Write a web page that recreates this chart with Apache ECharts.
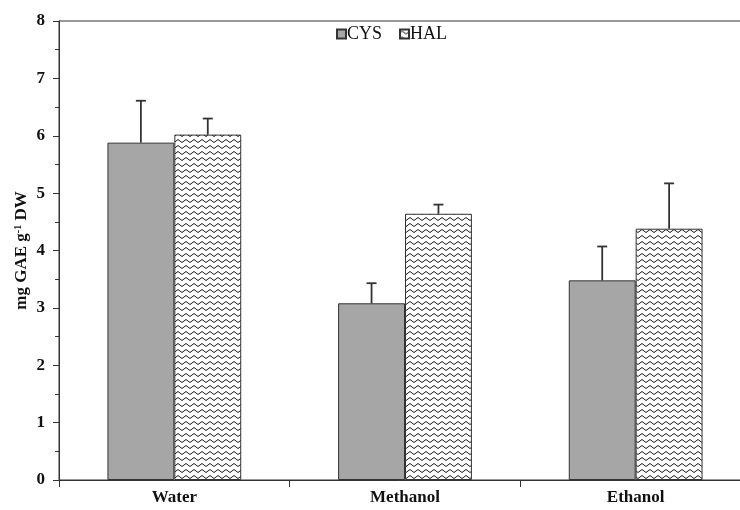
<!DOCTYPE html>
<html>
<head>
<meta charset="utf-8">
<script src="https://cdn.jsdelivr.net/npm/echarts@6/dist/echarts.min.js"></script>
<style>html,body{margin:0;padding:0;background:#fff;}#c{width:740px;height:510px;}</style>
</head>
<body>
<div id="c"></div>
<script>
const categories = ['Water', 'Methanol', 'Ethanol'];
const cysValues = [5.88, 3.08, 3.48];
const cysErrors = [0.73, 0.35, 0.59];
const halValues = [6.02, 4.64, 4.38];
const halErrors = [0.28, 0.16, 0.79];
const yTicks = [0, 1, 2, 3, 4, 5, 6, 7, 8];

const BAR_FRAC = 0.29;
const FONT = '"Liberation Serif", "Times New Roman", serif';

function makeWave() {
  const c = document.createElement('canvas');
  c.width = 8; c.height = 6;
  const g = c.getContext('2d');
  g.fillStyle = '#fff';
  g.fillRect(0, 0, 8, 6);
  g.strokeStyle = '#1a1a1a';
  g.lineWidth = 1;
  g.beginPath();
  g.moveTo(0, 3);
  g.quadraticCurveTo(2, 0, 4, 3);
  g.quadraticCurveTo(6, 6, 8, 3);
  g.stroke();
  return c;
}
const wave = makeWave();

function errSeries(values, errors, side) {
  return {
    type: 'custom',
    z: 10,
    silent: true,
    data: values.map((v, i) => [i, v, v + errors[i]]),
    renderItem: function (params, api) {
      const band = api.size([1, 0])[0];
      const off = side * band * BAR_FRAC / 2;
      const p0 = api.coord([api.value(0), api.value(1)]);
      const p1 = api.coord([api.value(0), api.value(2)]);
      const x = p0[0] + off;
      const style = { stroke: '#333', lineWidth: 1.8 };
      return {
        type: 'group',
        children: [
          { type: 'line', shape: { x1: x, y1: p0[1], x2: x, y2: p1[1] }, style: style },
          { type: 'line', shape: { x1: x - 5, y1: p1[1], x2: x + 5, y2: p1[1] }, style: style }
        ]
      };
    }
  };
}

const chart = echarts.init(document.getElementById('c'), null, { renderer: 'canvas' });
chart.setOption({
  animation: false,
  backgroundColor: '#fff',
  grid: { left: 59, right: -11, top: 21, bottom: 30, show: true, borderColor: '#333', borderWidth: 1, outerBoundsMode: 'none', containLabel: false },
  legend: {
    data: ['CYS', 'HAL'],
    left: 331, top: 20,
    itemWidth: 9, itemHeight: 9, itemGap: 17,
    icon: 'rect',
    textStyle: { fontFamily: FONT, fontSize: 18, color: '#111', padding: [0, 0, 0, -4] }
  },
  xAxis: {
    type: 'category',
    data: categories,
    axisLine: { lineStyle: { color: '#333', width: 1 } },
    axisTick: { show: true, length: 7, lineStyle: { color: '#333' } },
    axisLabel: { fontFamily: FONT, fontWeight: 'bold', fontSize: 17, color: '#111', margin: 9 }
  },
  yAxis: {
    type: 'value',
    min: yTicks[0], max: yTicks[yTicks.length - 1], interval: 1,
    name: 'mg GAE g{sup|-1} DW',
    nameLocation: 'middle',
    nameGap: 28,
    nameMoveOverlap: false,
    nameRotate: 90,
    nameTextStyle: {
      fontFamily: FONT, fontWeight: 'bold', fontSize: 17, color: '#111',
      rich: { sup: { fontFamily: FONT, fontWeight: 'bold', fontSize: 10, verticalAlign: 'top', padding: [0, 0, 8, 0] } }
    },
    axisLine: { show: true, lineStyle: { color: '#333', width: 1 } },
    axisTick: { show: true, length: 6, lineStyle: { color: '#333' } },
    minorTick: { show: true, splitNumber: 2, length: 4, lineStyle: { color: '#333' } },
    splitLine: { show: false },
    axisLabel: { fontFamily: FONT, fontWeight: 'bold', fontSize: 17, color: '#111', margin: 14 }
  },
  series: [
    {
      name: 'CYS', type: 'bar', data: cysValues,
      barWidth: (BAR_FRAC * 100) + '%', barGap: '0%',
      itemStyle: { color: '#a6a6a6', borderColor: '#333', borderWidth: 1 }
    },
    {
      name: 'HAL', type: 'bar', data: halValues,
      barWidth: (BAR_FRAC * 100) + '%', barGap: '0%',
      itemStyle: { color: { image: wave, repeat: 'repeat' }, borderColor: '#333', borderWidth: 1 }
    },
    errSeries(cysValues, cysErrors, -1),
    errSeries(halValues, halErrors, 1)
  ]
});
</script>
</body>
</html>
